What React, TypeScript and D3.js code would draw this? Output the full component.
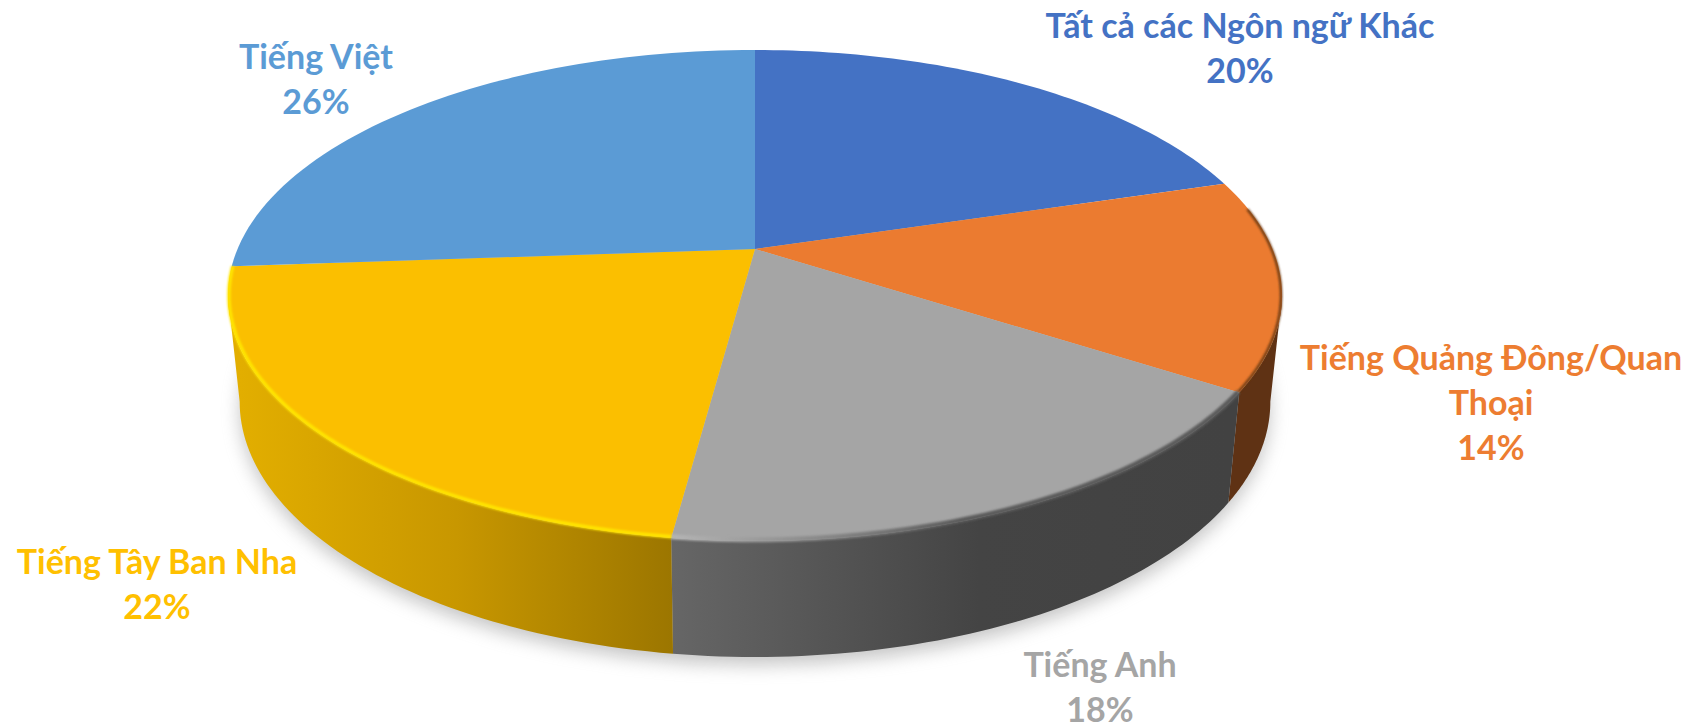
import React from 'react';
import * as d3 from 'd3';

// Chart values, clockwise from 12 o'clock. The labels round them.
const languages = ['Tất cả các Ngôn ngữ Khác', 'Tiếng Quảng Đông/Quan Thoại', 'Tiếng Anh', 'Tiếng Tây Ban Nha', 'Tiếng Việt'];
const shares = [20.3, 13.85, 17.95, 21.75, 26.15];
const labelLines = [
  ['Tất cả các Ngôn ngữ Khác'],
  ['Tiếng Quảng Đông/Quan', 'Thoại'],
  ['Tiếng Anh'],
  ['Tiếng Tây Ban Nha'],
  ['Tiếng Việt'],
];
const topColors = ['#4472C4', '#EB7B30', '#A5A5A5', '#FBBF00', '#5B9BD5'];
const labelColors = ['#4472C4', '#ED7D31', '#A5A5A5', '#FFC000', '#5B9BD5'];
const labelSpots = [
  { x: 1240, y: 38 },
  { x: 1491, y: 370 },
  { x: 1100, y: 677 },
  { x: 157, y: 574 },
  { x: 316, y: 69 },
];

const WIDTH = 1696;
const HEIGHT = 728;
const LINE_GAP = 45;
const PERSPECTIVE = 0.1894;
const CX = 755;
const topFace = { cy: 249, a: 236.7, b: 517.5 };
const bottomFace = { cy: 353.5, a: 246, b: 506 };

const TURN = Math.PI * 2;
// where the rim of the disc leaves the silhouette, on either side
const rightEdge = Math.PI / 2 + Math.asin(PERSPECTIVE);
const leftEdge = TURN - rightEdge;

type Face = { cy: number; a: number; b: number };

function project(angle: number, face: Face): [number, number] {
  const u = Math.sin(angle);
  const v = -Math.cos(angle);
  const w = 1 - PERSPECTIVE * v;
  return [CX + (face.b * u) / w, face.cy + (face.a * v) / w];
}

function arcPoints(from: number, to: number, face: Face): [number, number][] {
  const n = 60;
  return d3.range(n + 1).map(i => project(from + ((to - from) * i) / n, face));
}

const line = d3.line();
const closed = (pts: [number, number][]) => line(pts) + 'Z';

const slices = d3.pie<number>().sort(null).startAngle(0).endAngle(TURN)(shares);

function wall(start: number, end: number) {
  const from = Math.max(start, rightEdge);
  const to = Math.min(end, leftEdge);
  if (to <= from) return null;
  return closed([...arcPoints(from, to, topFace), ...arcPoints(to, from, bottomFace)]);
}

const wallFills = ['none', '#5F3214', 'url(#wallGray)', 'url(#wallYellow)', 'none'];
const rimColors = ['none', '#6B3A16', 'url(#rimGray)', '#FFE600', 'none'];
const rimWidths = [0, 2.5, 5, 3.5, 0];

export default function App() {
  return (
    <svg
      width={WIDTH}
      height={HEIGHT}
      viewBox={`0 0 ${WIDTH} ${HEIGHT}`}
      style={{ position: 'absolute', left: 0, top: 0, background: '#fff', display: 'block' }}
    >
      <defs>
        <filter id="groundBlur" x="-10%" y="-10%" width="120%" height="130%">
          <feGaussianBlur stdDeviation="9" />
        </filter>
        <filter id="rimBlur" x="-5%" y="-5%" width="110%" height="110%">
          <feGaussianBlur stdDeviation="1.3" />
        </filter>
        <linearGradient id="wallGray" gradientUnits="userSpaceOnUse" x1="672" x2="1230" y1="0" y2="0">
          <stop offset="0" stopColor="#666666" />
          <stop offset="0.55" stopColor="#444444" />
          <stop offset="1" stopColor="#424242" />
        </linearGradient>
        <linearGradient id="wallYellow" gradientUnits="userSpaceOnUse" x1="240" x2="672" y1="0" y2="0">
          <stop offset="0" stopColor="#E2AE00" />
          <stop offset="0.5" stopColor="#C89700" />
          <stop offset="1" stopColor="#9C7600" />
        </linearGradient>
        <linearGradient id="rimGray" gradientUnits="userSpaceOnUse" x1="672" x2="960" y1="0" y2="0">
          <stop offset="0" stopColor="#B4B4B4" />
          <stop offset="0.5" stopColor="#8A8A8A" />
          <stop offset="1" stopColor="#5C5C5C" />
        </linearGradient>
      </defs>

      <path
        d={closed(arcPoints(0, TURN, bottomFace))}
        transform="translate(0,8)"
        fill="#8c8c8c"
        opacity={0.5}
        filter="url(#groundBlur)"
      />

      {slices.map((s, i) => {
        const d = wall(s.startAngle, s.endAngle);
        return d && <path key={languages[i]} d={d} fill={wallFills[i]} />;
      })}

      {slices.map((s, i) => (
        <path
          key={languages[i]}
          d={closed([project(0, { ...topFace, a: 0, b: 0 }), ...arcPoints(s.startAngle, s.endAngle, topFace)])}
          fill={topColors[i]}
        />
      ))}

      {slices.map((s, i) => {
        if (rimColors[i] === 'none') return null;
        const from = i === 1 ? s.startAngle + 0.12 : s.startAngle;
        return (
          <path
            key={languages[i]}
            d={line(arcPoints(from, s.endAngle, { ...topFace, a: topFace.a - 1, b: topFace.b - 1 }))!}
            fill="none"
            stroke={rimColors[i]}
            strokeWidth={rimWidths[i]}
            filter="url(#rimBlur)"
          />
        );
      })}

      <g fontFamily="Lato, 'Open Sans', sans-serif" fontWeight={700} fontSize={34} textAnchor="middle">
        {slices.map((s, i) => (
          <text key={languages[i]} fill={labelColors[i]} x={labelSpots[i].x} y={labelSpots[i].y}>
            {labelLines[i].map((t, j) => (
              <tspan key={t} x={labelSpots[i].x} dy={j === 0 ? 0 : LINE_GAP}>{t}</tspan>
            ))}
            <tspan x={labelSpots[i].x} dy={LINE_GAP}>{d3.format('d')(s.value)}%</tspan>
          </text>
        ))}
      </g>
    </svg>
  );
}
